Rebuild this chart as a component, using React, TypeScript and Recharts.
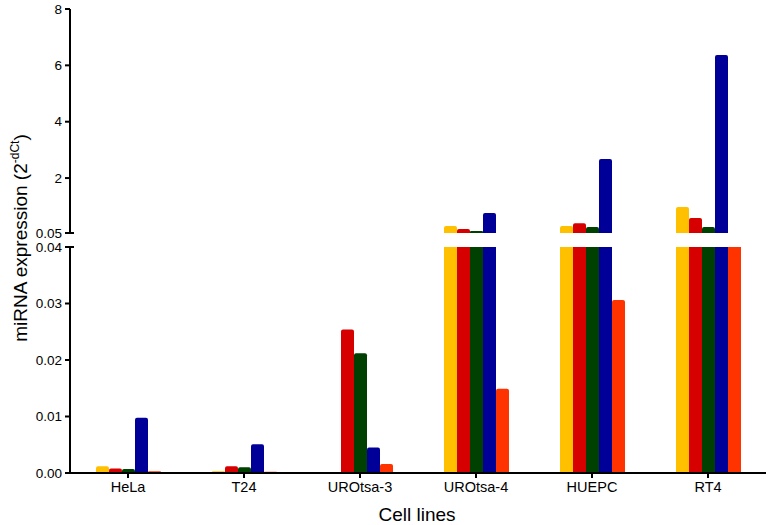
import React from 'react'
import { BarChart, Bar, XAxis, YAxis } from 'recharts'

// cell lines on the x axis
const cellLines = ['HeLa', 'T24', 'UROtsa-3', 'UROtsa-4', 'HUEPC', 'RT4']

// expression values (2^-dCt), one array per bar colour
const yellowVals = [0.0012, 0.0003, 0.0001, 0.3, 0.3, 0.97]
const redVals = [0.0008, 0.0012, 0.0254, 0.19, 0.4, 0.58]
const greenVals = [0.0007, 0.001, 0.0212, 0.12, 0.26, 0.26]
const blueVals = [0.0098, 0.0051, 0.0045, 0.76, 2.68, 6.37]
const orangeVals = [0.0003, 0.0002, 0.0016, 0.0149, 0.0306, 0.045]

const lowerTicks = [0, 0.01, 0.02, 0.03, 0.04]
const upperTicks = [0.05, 2, 4, 6, 8]
const BREAK_LOW = 0.04
const BREAK_HIGH = 0.05

const series = [
  { key: 's1', vals: yellowVals, color: '#FFC000' },
  { key: 's2', vals: redVals, color: '#D60000' },
  { key: 's3', vals: greenVals, color: '#004000' },
  { key: 's4', vals: blueVals, color: '#000099' },
  { key: 's5', vals: orangeVals, color: '#FF3300' },
]

const lowerData = cellLines.map((cat, i) => {
  const row: any = { cat }
  series.forEach(s => { row[s.key] = s.vals[i] })
  return row
})

// upper panel only shows what is above the break
const upperData = cellLines.map((cat, i) => {
  const row: any = { cat }
  series.forEach(s => { row[s.key] = s.vals[i] >= BREAK_HIGH ? s.vals[i] : null })
  return row
})

const FONT = 'Liberation Sans, Arial, Helvetica, sans-serif'
const TICK_SIZE = 5
const TICK_MARGIN = 3

const makeTick = (fmt: (v: number) => string, capValue: number) => (props: any) => {
  const { x, y, payload } = props
  const axisX = x + TICK_SIZE + TICK_MARGIN
  return (
    <g>
      <text x={x} y={y} dy="0.35em" textAnchor="end" fontSize={13.5} fill="#000" fontFamily={FONT}>
        {fmt(payload.value)}
      </text>
      {payload.value === capValue && (
        <line x1={axisX - TICK_SIZE} x2={axisX + 4} y1={y} y2={y} stroke="#000" strokeWidth={2} />
      )}
    </g>
  )
}

const axisStyle = { stroke: '#000', strokeWidth: 2 }

export default function App() {
  return (
    <div style={{ position: 'absolute', left: 0, top: 0, width: 770, height: 525, background: '#fff', fontFamily: FONT }}>
      <div style={{ position: 'absolute', left: 0, top: 0 }}>
        <BarChart width={770} height={240} data={upperData} margin={{ top: 9, right: 4, bottom: 7, left: 0 }} barSize={13} barGap={0}>
          <XAxis dataKey="cat" hide />
          <YAxis
            width={70}
            domain={[BREAK_HIGH, 8]}
            ticks={upperTicks}
            allowDataOverflow
            axisLine={axisStyle}
            tickLine={axisStyle}
            tickSize={TICK_SIZE}
            tickMargin={TICK_MARGIN}
            tick={makeTick(v => (v === BREAK_HIGH ? '0.05' : String(v)), BREAK_HIGH)}
            interval={0}
          />
          {series.map(s => (
            <Bar key={s.key} dataKey={s.key} fill={s.color} radius={[2, 2, 0, 0]} isAnimationActive={false} />
          ))}
        </BarChart>
      </div>
      <div style={{ position: 'absolute', left: 0, top: 240 }}>
        <BarChart width={770} height={285} data={lowerData} margin={{ top: 7, right: 4, bottom: 0, left: 0 }} barSize={13} barGap={0}>
          <XAxis
            dataKey="cat"
            height={52}
            axisLine={axisStyle}
            tickLine={axisStyle}
            tickSize={5}
            tickMargin={4}
            tick={{ fontSize: 14.5, fill: '#000', fontFamily: FONT }}
            interval={0}
          />
          <YAxis
            width={70}
            domain={[0, BREAK_LOW]}
            ticks={lowerTicks}
            allowDataOverflow
            axisLine={axisStyle}
            tickLine={axisStyle}
            tickSize={TICK_SIZE}
            tickMargin={TICK_MARGIN}
            tick={makeTick(v => v.toFixed(2), BREAK_LOW)}
            interval={0}
          />
          {series.map(s => (
            <Bar key={s.key} dataKey={s.key} fill={s.color} radius={[2, 2, 0, 0]} isAnimationActive={false} />
          ))}
        </BarChart>
      </div>
      <svg width={770} height={525} style={{ position: 'absolute', left: 0, top: 0, pointerEvents: 'none' }}>
        <text x={417} y={521} textAnchor="middle" fontSize={19} fill="#000" fontFamily={FONT}>Cell lines</text>
        <text transform="translate(27,238) rotate(-90)" textAnchor="middle" fontSize={19} fill="#000" fontFamily={FONT}>
          miRNA expression (2
          <tspan fontSize={12} dy={-8}>-dCt</tspan>
          <tspan dy={8}>)</tspan>
        </text>
      </svg>
    </div>
  )
}
